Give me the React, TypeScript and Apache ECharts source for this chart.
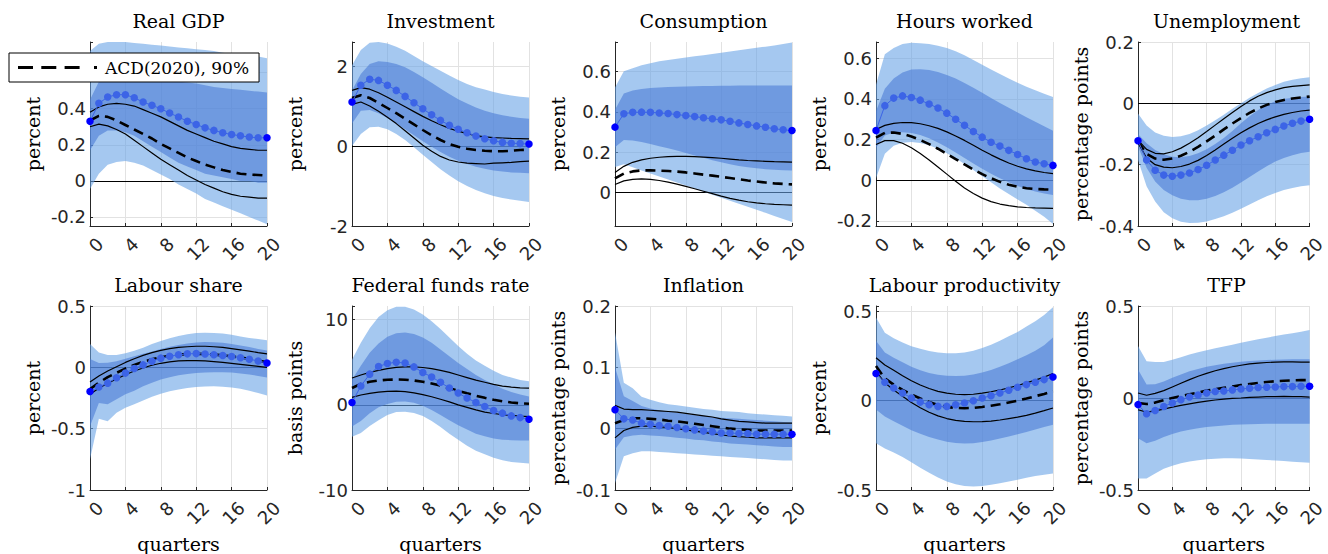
import React, { useEffect, useRef } from "react";
import * as echarts from "echarts";

const quarters = [0, 1, 2, 3, 4, 5, 6, 7, 8, 9, 10, 11, 12, 13, 14, 15, 16, 17, 18, 19, 20];

// Real GDP
const gdpMed = [0.33, 0.43, 0.465, 0.478, 0.478, 0.461, 0.437, 0.419, 0.4, 0.376, 0.354, 0.331, 0.313, 0.294, 0.28, 0.267, 0.257, 0.25, 0.243, 0.239, 0.239];
const gdpHi90 = [0.72, 0.76, 0.77, 0.77, 0.77, 0.765, 0.76, 0.755, 0.75, 0.745, 0.74, 0.735, 0.73, 0.725, 0.72, 0.71, 0.705, 0.7, 0.695, 0.69, 0.68];
const gdpHi68 = [0.45, 0.55, 0.58, 0.59, 0.59, 0.585, 0.58, 0.575, 0.57, 0.56, 0.55, 0.545, 0.54, 0.53, 0.52, 0.515, 0.51, 0.505, 0.5, 0.495, 0.49];
const gdpLo68 = [0.17, 0.25, 0.28, 0.28, 0.27, 0.25, 0.22, 0.19, 0.16, 0.13, 0.1, 0.08, 0.06, 0.04, 0.03, 0.02, 0.01, 0.0, 0.0, -0.01, -0.01];
const gdpLo90 = [-0.045, 0.04, 0.09, 0.105, 0.11, 0.1, 0.085, 0.06, 0.035, 0.01, -0.02, -0.045, -0.07, -0.1, -0.12, -0.14, -0.16, -0.18, -0.2, -0.22, -0.24];
const gdpAcd = [0.335, 0.36, 0.355, 0.335, 0.31, 0.285, 0.26, 0.235, 0.205, 0.18, 0.155, 0.13, 0.11, 0.09, 0.075, 0.06, 0.05, 0.04, 0.035, 0.033, 0.03];
const gdpAcdHi = [0.38, 0.41, 0.425, 0.43, 0.425, 0.415, 0.395, 0.375, 0.355, 0.33, 0.305, 0.28, 0.26, 0.24, 0.22, 0.205, 0.19, 0.18, 0.175, 0.17, 0.17];
const gdpAcdLo = [0.3, 0.315, 0.305, 0.285, 0.26, 0.225, 0.19, 0.155, 0.12, 0.09, 0.06, 0.03, 0.005, -0.02, -0.04, -0.06, -0.075, -0.085, -0.09, -0.095, -0.095];

// Investment
const invMed = [1.1, 1.52, 1.67, 1.64, 1.52, 1.39, 1.24, 1.08, 0.93, 0.78, 0.64, 0.52, 0.42, 0.33, 0.25, 0.18, 0.13, 0.09, 0.07, 0.06, 0.05];
const invHi90 = [2.02, 2.4, 2.58, 2.6, 2.56, 2.48, 2.38, 2.25, 2.12, 2.0, 1.88, 1.76, 1.65, 1.55, 1.47, 1.41, 1.35, 1.3, 1.26, 1.23, 1.21];
const invHi68 = [1.39, 1.8, 2.05, 2.12, 2.1, 2.05, 1.97, 1.85, 1.72, 1.58, 1.44, 1.3, 1.17, 1.06, 0.96, 0.88, 0.82, 0.77, 0.73, 0.7, 0.68];
const invLo68 = [0.56, 0.88, 0.9, 0.82, 0.7, 0.56, 0.42, 0.27, 0.12, -0.02, -0.15, -0.27, -0.37, -0.45, -0.52, -0.57, -0.61, -0.64, -0.66, -0.67, -0.68];
const invLo90 = [0.0, 0.3, 0.47, 0.48, 0.42, 0.3, 0.15, -0.03, -0.22, -0.4, -0.58, -0.74, -0.88, -1.0, -1.1, -1.18, -1.25, -1.3, -1.34, -1.37, -1.4];
const invAcd = [1.2, 1.27, 1.2, 1.08, 0.95, 0.82, 0.68, 0.54, 0.4, 0.27, 0.15, 0.05, -0.02, -0.07, -0.1, -0.12, -0.13, -0.13, -0.12, -0.1, -0.09];
const invAcdHi = [1.39, 1.46, 1.42, 1.33, 1.22, 1.1, 0.98, 0.86, 0.74, 0.63, 0.53, 0.44, 0.37, 0.31, 0.26, 0.23, 0.21, 0.2, 0.19, 0.185, 0.18];
const invAcdLo = [1.04, 1.1, 1.0, 0.87, 0.72, 0.56, 0.38, 0.2, 0.02, -0.13, -0.26, -0.35, -0.4, -0.43, -0.44, -0.45, -0.43, -0.42, -0.41, -0.39, -0.38];

// Consumption
const conMed = [0.324, 0.39, 0.397, 0.398, 0.397, 0.394, 0.391, 0.386, 0.381, 0.376, 0.37, 0.365, 0.36, 0.353, 0.345, 0.337, 0.33, 0.323, 0.316, 0.311, 0.307];
const conHi90 = [0.52, 0.6, 0.615, 0.63, 0.64, 0.65, 0.656, 0.662, 0.668, 0.674, 0.68, 0.686, 0.692, 0.698, 0.704, 0.71, 0.716, 0.722, 0.728, 0.735, 0.743];
const conHi68 = [0.41, 0.49, 0.505, 0.512, 0.518, 0.52, 0.522, 0.524, 0.525, 0.526, 0.527, 0.528, 0.529, 0.529, 0.53, 0.53, 0.53, 0.53, 0.53, 0.53, 0.53];
const conLo68 = [0.225, 0.26, 0.258, 0.25, 0.24, 0.23, 0.22, 0.208, 0.196, 0.184, 0.172, 0.16, 0.15, 0.14, 0.132, 0.126, 0.12, 0.116, 0.113, 0.111, 0.11];
const conLo90 = [0.127, 0.14, 0.125, 0.11, 0.095, 0.08, 0.065, 0.05, 0.035, 0.02, 0.005, -0.01, -0.025, -0.04, -0.055, -0.07, -0.085, -0.1, -0.115, -0.13, -0.145];
const conAcd = [0.07, 0.094, 0.105, 0.11, 0.11, 0.109, 0.107, 0.104, 0.1, 0.095, 0.089, 0.084, 0.078, 0.072, 0.066, 0.06, 0.055, 0.05, 0.046, 0.043, 0.041];
const conAcdHi = [0.1, 0.13, 0.15, 0.162, 0.17, 0.175, 0.178, 0.179, 0.179, 0.178, 0.176, 0.173, 0.17, 0.166, 0.162, 0.159, 0.157, 0.155, 0.153, 0.152, 0.151];
const conAcdLo = [0.04, 0.058, 0.066, 0.068, 0.066, 0.06, 0.052, 0.042, 0.031, 0.019, 0.007, -0.005, -0.017, -0.028, -0.037, -0.045, -0.051, -0.055, -0.058, -0.06, -0.062];

// Hours worked
const hrsMed = [0.245, 0.367, 0.404, 0.415, 0.407, 0.394, 0.375, 0.355, 0.33, 0.3, 0.27, 0.24, 0.212, 0.187, 0.168, 0.147, 0.127, 0.106, 0.09, 0.081, 0.073];
const hrsHi90 = [0.47, 0.62, 0.65, 0.67, 0.676, 0.674, 0.67, 0.662, 0.65, 0.635, 0.615, 0.592, 0.568, 0.545, 0.522, 0.5, 0.48, 0.46, 0.443, 0.425, 0.41];
const hrsHi68 = [0.34, 0.45, 0.5, 0.53, 0.545, 0.546, 0.542, 0.532, 0.518, 0.5, 0.478, 0.455, 0.43, 0.405, 0.38, 0.356, 0.333, 0.31, 0.288, 0.266, 0.244];
const hrsLo68 = [0.16, 0.22, 0.235, 0.236, 0.232, 0.222, 0.206, 0.186, 0.162, 0.137, 0.11, 0.083, 0.057, 0.032, 0.01, -0.01, -0.028, -0.043, -0.055, -0.065, -0.073];
const hrsLo90 = [0.01, 0.13, 0.17, 0.185, 0.188, 0.183, 0.172, 0.155, 0.133, 0.108, 0.08, 0.05, 0.02, -0.01, -0.04, -0.068, -0.095, -0.12, -0.15, -0.18, -0.215];
const hrsAcd = [0.21, 0.233, 0.235, 0.228, 0.215, 0.198, 0.178, 0.155, 0.13, 0.104, 0.078, 0.053, 0.03, 0.01, -0.008, -0.022, -0.032, -0.039, -0.043, -0.045, -0.046];
const hrsAcdHi = [0.25, 0.27, 0.28, 0.284, 0.283, 0.278, 0.268, 0.255, 0.238, 0.218, 0.196, 0.172, 0.148, 0.125, 0.104, 0.085, 0.069, 0.056, 0.046, 0.038, 0.033];
const hrsAcdLo = [0.176, 0.195, 0.195, 0.182, 0.16, 0.132, 0.1, 0.065, 0.03, -0.005, -0.038, -0.065, -0.088, -0.105, -0.117, -0.125, -0.131, -0.134, -0.136, -0.137, -0.138];

// Unemployment
const unMed = [-0.122, -0.185, -0.218, -0.234, -0.238, -0.234, -0.227, -0.216, -0.202, -0.185, -0.169, -0.153, -0.136, -0.122, -0.109, -0.096, -0.085, -0.074, -0.065, -0.058, -0.052];
const unHi90 = [-0.033, -0.072, -0.095, -0.106, -0.11, -0.107, -0.1, -0.088, -0.072, -0.055, -0.037, -0.018, 0.0, 0.018, 0.034, 0.048, 0.06, 0.07, 0.077, 0.082, 0.085];
const unHi68 = [-0.1, -0.13, -0.152, -0.166, -0.174, -0.176, -0.172, -0.163, -0.15, -0.133, -0.113, -0.09, -0.065, -0.042, -0.022, -0.005, 0.007, 0.014, 0.018, 0.021, 0.022];
const unLo68 = [-0.14, -0.21, -0.255, -0.283, -0.3, -0.311, -0.316, -0.316, -0.311, -0.302, -0.29, -0.275, -0.258, -0.24, -0.222, -0.205, -0.19, -0.178, -0.169, -0.162, -0.158];
const unLo90 = [-0.185, -0.27, -0.32, -0.355, -0.375, -0.386, -0.39, -0.389, -0.385, -0.377, -0.368, -0.357, -0.344, -0.33, -0.316, -0.303, -0.292, -0.283, -0.276, -0.27, -0.267];
const unAcd = [-0.125, -0.165, -0.18, -0.184, -0.18, -0.171, -0.158, -0.142, -0.124, -0.105, -0.085, -0.066, -0.048, -0.031, -0.017, -0.005, 0.004, 0.011, 0.016, 0.019, 0.022];
const unAcdHi = [-0.12, -0.15, -0.163, -0.165, -0.158, -0.146, -0.13, -0.112, -0.092, -0.071, -0.05, -0.03, -0.01, 0.008, 0.023, 0.035, 0.044, 0.051, 0.055, 0.058, 0.06];
const unAcdLo = [-0.128, -0.178, -0.2, -0.208, -0.21, -0.206, -0.198, -0.186, -0.17, -0.152, -0.133, -0.114, -0.096, -0.08, -0.066, -0.054, -0.044, -0.036, -0.03, -0.025, -0.022];

// Labour share
const lsMed = [-0.197, -0.16, -0.129, -0.085, -0.047, -0.01, 0.02, 0.05, 0.075, 0.09, 0.103, 0.11, 0.112, 0.108, 0.103, 0.096, 0.088, 0.078, 0.066, 0.052, 0.035];
const lsHi90 = [0.19, 0.12, 0.1, 0.1, 0.115, 0.135, 0.16, 0.19, 0.215, 0.238, 0.256, 0.27, 0.279, 0.282, 0.28, 0.275, 0.265, 0.252, 0.24, 0.23, 0.22];
const lsHi68 = [0.068, 0.035, 0.038, 0.05, 0.07, 0.09, 0.11, 0.13, 0.15, 0.168, 0.183, 0.195, 0.203, 0.206, 0.205, 0.2, 0.19, 0.178, 0.165, 0.15, 0.137];
const lsLo68 = [-0.48, -0.29, -0.3, -0.26, -0.22, -0.19, -0.155, -0.125, -0.1, -0.08, -0.065, -0.055, -0.047, -0.042, -0.04, -0.04, -0.043, -0.05, -0.058, -0.07, -0.082];
const lsLo90 = [-0.75, -0.42, -0.44, -0.37, -0.33, -0.3, -0.27, -0.24, -0.215, -0.195, -0.18, -0.168, -0.16, -0.156, -0.155, -0.158, -0.165, -0.175, -0.19, -0.21, -0.23];
const lsAcd = [-0.178, -0.125, -0.08, -0.045, -0.01, 0.02, 0.045, 0.065, 0.082, 0.095, 0.104, 0.108, 0.11, 0.108, 0.104, 0.098, 0.09, 0.08, 0.07, 0.056, 0.041];
const lsAcdHi = [-0.12, -0.07, -0.03, 0.005, 0.04, 0.07, 0.097, 0.12, 0.138, 0.152, 0.162, 0.168, 0.172, 0.172, 0.168, 0.162, 0.153, 0.143, 0.132, 0.12, 0.11];
const lsAcdLo = [-0.22, -0.17, -0.13, -0.095, -0.06, -0.03, -0.005, 0.017, 0.033, 0.045, 0.052, 0.055, 0.055, 0.052, 0.047, 0.04, 0.032, 0.024, 0.016, 0.008, 0.0];

// Federal funds rate
const ffrMed = [0.28, 2.2, 3.6, 4.5, 4.85, 5.0, 4.9, 4.45, 3.8, 3.27, 2.64, 1.97, 1.38, 0.79, 0.28, -0.2, -0.67, -0.98, -1.3, -1.5, -1.7];
const ffrHi90 = [5.3, 7.3, 9.0, 10.3, 11.1, 11.5, 11.5, 11.2, 10.6, 9.8, 8.9, 7.9, 6.9, 6.0, 5.2, 4.6, 4.0, 3.5, 3.2, 2.9, 2.76];
const ffrHi68 = [2.95, 4.6, 6.1, 7.2, 8.0, 8.4, 8.5, 8.3, 7.9, 7.3, 6.5, 5.7, 4.9, 4.2, 3.5, 2.9, 2.4, 1.9, 1.5, 1.2, 0.98];
const ffrLo68 = [-2.56, -1.9, -1.0, -0.3, 0.1, 0.35, 0.4, 0.25, -0.1, -0.6, -1.2, -1.8, -2.4, -2.9, -3.4, -3.7, -3.95, -4.1, -4.15, -4.2, -4.2];
const ffrLo90 = [-3.74, -3.3, -2.5, -1.8, -1.2, -0.85, -0.8, -0.95, -1.3, -1.9, -2.6, -3.4, -4.1, -4.8, -5.4, -5.8, -6.2, -6.5, -6.7, -6.8, -6.9];
const ffrAcd = [1.97, 2.45, 2.7, 2.85, 2.95, 2.97, 2.95, 2.85, 2.7, 2.5, 2.25, 1.95, 1.65, 1.35, 1.07, 0.82, 0.6, 0.42, 0.28, 0.18, 0.12];
const ffrAcdHi = [3.15, 3.5, 3.8, 4.05, 4.25, 4.4, 4.45, 4.45, 4.38, 4.25, 4.05, 3.8, 3.5, 3.2, 2.9, 2.65, 2.4, 2.2, 2.08, 2.0, 1.97];
const ffrAcdLo = [0.87, 1.15, 1.35, 1.5, 1.57, 1.6, 1.55, 1.4, 1.2, 0.95, 0.65, 0.35, 0.0, -0.3, -0.6, -0.85, -1.02, -1.15, -1.25, -1.32, -1.38];

// Inflation
const infMed = [0.031, 0.016, 0.014, 0.009, 0.007, 0.005, 0.004, 0.002, 0.0, -0.002, -0.004, -0.005, -0.007, -0.007, -0.008, -0.008, -0.009, -0.009, -0.009, -0.009, -0.009];
const infHi90 = [0.157, 0.075, 0.066, 0.052, 0.047, 0.043, 0.04, 0.038, 0.036, 0.034, 0.032, 0.031, 0.029, 0.028, 0.027, 0.025, 0.024, 0.023, 0.022, 0.021, 0.02];
const infHi68 = [0.1, 0.053, 0.045, 0.037, 0.033, 0.03, 0.028, 0.026, 0.024, 0.022, 0.021, 0.019, 0.018, 0.017, 0.016, 0.015, 0.014, 0.013, 0.012, 0.011, 0.01];
const infLo68 = [-0.034, -0.014, -0.011, -0.01, -0.011, -0.012, -0.013, -0.015, -0.016, -0.018, -0.019, -0.021, -0.022, -0.024, -0.025, -0.026, -0.027, -0.028, -0.029, -0.03, -0.03];
const infLo90 = [-0.089, -0.045, -0.04, -0.037, -0.037, -0.038, -0.039, -0.04, -0.041, -0.042, -0.043, -0.044, -0.045, -0.046, -0.047, -0.048, -0.049, -0.05, -0.051, -0.052, -0.052];
const infAcd = [0.009, 0.014, 0.017, 0.017, 0.016, 0.015, 0.013, 0.012, 0.01, 0.008, 0.006, 0.004, 0.002, 0.0, -0.001, -0.002, -0.003, -0.003, -0.003, -0.003, -0.003];
const infAcdHi = [0.038, 0.032, 0.031, 0.031, 0.03, 0.029, 0.028, 0.027, 0.025, 0.023, 0.021, 0.019, 0.016, 0.014, 0.012, 0.011, 0.01, 0.009, 0.009, 0.009, 0.009];
const infAcdLo = [-0.015, -0.003, 0.002, 0.004, 0.004, 0.003, 0.002, 0.0, -0.002, -0.004, -0.006, -0.008, -0.01, -0.012, -0.013, -0.014, -0.015, -0.015, -0.015, -0.015, -0.015];

// Labour productivity
const lpMed = [0.152, 0.103, 0.071, 0.043, 0.015, -0.008, -0.023, -0.032, -0.032, -0.023, -0.013, 0.0, 0.015, 0.028, 0.043, 0.058, 0.075, 0.09, 0.103, 0.118, 0.133];
const lpHi90 = [0.466, 0.38, 0.35, 0.325, 0.305, 0.29, 0.278, 0.27, 0.265, 0.265, 0.27, 0.28, 0.295, 0.313, 0.335, 0.36, 0.385, 0.415, 0.445, 0.48, 0.523];
const lpHi68 = [0.335, 0.27, 0.24, 0.215, 0.19, 0.17, 0.155, 0.145, 0.14, 0.138, 0.14, 0.147, 0.158, 0.172, 0.19, 0.21, 0.232, 0.255, 0.28, 0.31, 0.353];
const lpLo68 = [-0.05, -0.088, -0.115, -0.14, -0.165, -0.185, -0.203, -0.218, -0.23, -0.237, -0.24, -0.238, -0.232, -0.223, -0.212, -0.2, -0.188, -0.175, -0.162, -0.148, -0.135];
const lpLo90 = [-0.239, -0.267, -0.29, -0.315, -0.345, -0.375, -0.403, -0.43, -0.452, -0.468, -0.478, -0.48, -0.477, -0.47, -0.462, -0.452, -0.442, -0.432, -0.422, -0.415, -0.408];
const lpAcd = [0.194, 0.125, 0.09, 0.06, 0.035, 0.012, -0.008, -0.024, -0.035, -0.041, -0.042, -0.04, -0.035, -0.028, -0.02, -0.01, 0.0, 0.012, 0.025, 0.038, 0.053];
const lpAcdHi = [0.24, 0.2, 0.17, 0.14, 0.112, 0.088, 0.068, 0.052, 0.042, 0.036, 0.034, 0.036, 0.042, 0.05, 0.06, 0.072, 0.085, 0.1, 0.115, 0.132, 0.152];
const lpAcdLo = [0.165, 0.1, 0.06, 0.025, -0.01, -0.04, -0.065, -0.085, -0.1, -0.11, -0.116, -0.118, -0.117, -0.114, -0.108, -0.1, -0.092, -0.082, -0.07, -0.056, -0.041];

// TFP
const tfpMed = [-0.036, -0.086, -0.068, -0.046, -0.027, -0.009, 0.005, 0.016, 0.027, 0.035, 0.038, 0.044, 0.049, 0.053, 0.057, 0.058, 0.06, 0.062, 0.062, 0.064, 0.064];
const tfpHi90 = [0.283, 0.2, 0.195, 0.195, 0.208, 0.222, 0.236, 0.248, 0.26, 0.27, 0.28, 0.29, 0.3, 0.31, 0.319, 0.328, 0.337, 0.345, 0.352, 0.36, 0.369];
const tfpHi68 = [0.155, 0.073, 0.075, 0.09, 0.11, 0.128, 0.145, 0.158, 0.17, 0.178, 0.186, 0.192, 0.197, 0.201, 0.204, 0.206, 0.208, 0.209, 0.21, 0.21, 0.21];
const tfpLo68 = [-0.219, -0.246, -0.232, -0.212, -0.195, -0.182, -0.172, -0.164, -0.158, -0.153, -0.149, -0.146, -0.144, -0.142, -0.141, -0.14, -0.14, -0.14, -0.14, -0.14, -0.14];
const tfpLo90 = [-0.438, -0.438, -0.41, -0.385, -0.368, -0.355, -0.345, -0.338, -0.333, -0.33, -0.328, -0.328, -0.329, -0.331, -0.334, -0.337, -0.34, -0.343, -0.346, -0.349, -0.352];
const tfpAcd = [-0.027, -0.033, -0.025, -0.012, 0.0, 0.01, 0.02, 0.03, 0.04, 0.048, 0.055, 0.062, 0.07, 0.076, 0.082, 0.087, 0.091, 0.094, 0.096, 0.097, 0.097];
const tfpAcdHi = [0.027, 0.015, 0.025, 0.04, 0.06, 0.08, 0.1, 0.118, 0.134, 0.148, 0.16, 0.17, 0.178, 0.185, 0.19, 0.193, 0.195, 0.196, 0.196, 0.195, 0.195];
const tfpAcdLo = [-0.064, -0.077, -0.07, -0.06, -0.05, -0.04, -0.032, -0.024, -0.017, -0.011, -0.006, -0.002, 0.0, 0.003, 0.005, 0.007, 0.008, 0.009, 0.008, 0.007, 0.005];

const titles = ["Real GDP", "Investment", "Consumption", "Hours worked", "Unemployment", "Labour share", "Federal funds rate", "Inflation", "Labour productivity", "TFP"];
const yNames = ["percent", "percent", "percent", "percent", "percentage points", "percent", "basis points", "percentage points", "percent", "percentage points"];
const yMins = [-0.25, -2, -0.165, -0.225, -0.4, -1, -10, -0.1, -0.5, -0.5];
const yMaxs = [0.77, 2.6, 0.745, 0.68, 0.2, 0.5, 11.6, 0.2, 0.53, 0.5];
const ySteps = [0.2, 2, 0.2, 0.2, 0.2, 0.5, 10, 0.1, 0.5, 0.5];
const xTickEvery = 4;
const legendLabel = "ACD(2020), 90%";

const medians = [gdpMed, invMed, conMed, hrsMed, unMed, lsMed, ffrMed, infMed, lpMed, tfpMed];
const hi90s = [gdpHi90, invHi90, conHi90, hrsHi90, unHi90, lsHi90, ffrHi90, infHi90, lpHi90, tfpHi90];
const hi68s = [gdpHi68, invHi68, conHi68, hrsHi68, unHi68, lsHi68, ffrHi68, infHi68, lpHi68, tfpHi68];
const lo68s = [gdpLo68, invLo68, conLo68, hrsLo68, unLo68, lsLo68, ffrLo68, infLo68, lpLo68, tfpLo68];
const lo90s = [gdpLo90, invLo90, conLo90, hrsLo90, unLo90, lsLo90, ffrLo90, infLo90, lpLo90, tfpLo90];
const acds = [gdpAcd, invAcd, conAcd, hrsAcd, unAcd, lsAcd, ffrAcd, infAcd, lpAcd, tfpAcd];
const acdHis = [gdpAcdHi, invAcdHi, conAcdHi, hrsAcdHi, unAcdHi, lsAcdHi, ffrAcdHi, infAcdHi, lpAcdHi, tfpAcdHi];
const acdLos = [gdpAcdLo, invAcdLo, conAcdLo, hrsAcdLo, unAcdLo, lsAcdLo, ffrAcdLo, infAcdLo, lpAcdLo, tfpAcdLo];

const SERIF = "DejaVu Serif";
const SANS = "DejaVu Sans";
const AXIS = "#262626";
const GRIDC = "#e2e2e2";
const LIGHT = "rgba(105,163,230,0.6)";
const DARK = "rgba(75,123,213,0.6)";
const DOT = "#3c64e6";

const lefts = [90, 352, 615, 876, 1138];
const tops = [42, 306];
const W = 177;
const H = 184;

// dashed legend sample: three dashes and a dot
const LEGEND_ICON = "path://M0 0H15V3H0Z M23.3 0H38.3V3H23.3Z M46.6 0H61.6V3H46.6Z M76 0H79V3H76Z";

function isMult(v: number, s: number) {
  const r = v / s;
  return Math.abs(r - Math.round(r)) < 1e-6;
}

function buildOption() {
  const grid: any[] = [];
  const xAxis: any[] = [];
  const yAxis: any[] = [];
  const title: any[] = [];
  const series: any[] = [];
  const cats = quarters.map((q) => String(q));
  for (let i = 0; i < 10; i++) {
    const row = i < 5 ? 0 : 1;
    const col = i % 5;
    const left = lefts[col];
    const top = tops[row];
    grid.push({ left, top, width: W, height: H, containLabel: false });
    title.push({
      text: titles[i],
      left: left + W / 2,
      top: top - 31,
      textAlign: "center",
      padding: 0,
      textStyle: { fontFamily: SERIF, fontSize: 19, fontWeight: "normal", color: "#000" },
    });
    const step = ySteps[i];
    xAxis.push({
      type: "category",
      gridIndex: i,
      data: cats,
      boundaryGap: false,
      name: row === 1 ? "quarters" : "",
      nameLocation: "middle",
      nameGap: 44,
      nameTextStyle: { fontFamily: SERIF, fontSize: 19, color: "#000" },
      axisLine: { show: true, onZero: false, lineStyle: { color: AXIS, width: 1 } },
      axisTick: { show: true, inside: true, length: 3, interval: xTickEvery - 1, lineStyle: { color: AXIS } },
      axisLabel: {
        interval: xTickEvery - 1,
        rotate: 45,
        margin: 5,
        verticalAlign: "top",
        padding: [5, 0, 0, 0],
        fontFamily: SANS,
        fontSize: 18,
        color: AXIS,
      },
      splitLine: { show: true, interval: xTickEvery - 1, lineStyle: { color: GRIDC, width: 1 } },
    });
    yAxis.push({
      type: "value",
      gridIndex: i,
      min: yMins[i],
      max: yMaxs[i],
      minInterval: step,
      maxInterval: step,
      name: yNames[i],
      nameLocation: "middle",
      nameGap: 48,
      nameTextStyle: { fontFamily: SERIF, fontSize: 19, color: "#000" },
      axisLine: { show: true, lineStyle: { color: AXIS, width: 1 } },
      axisTick: { show: true, inside: true, length: 3, lineStyle: { color: AXIS } },
      axisLabel: {
        margin: 4,
        fontFamily: SANS,
        fontSize: 18,
        color: AXIS,
        formatter: (v: number) => (isMult(v, step) ? String(parseFloat((Math.round(v / step) * step).toFixed(4))) : ""),
      },
      splitLine: {
        show: true,
        showMinLine: false,
        showMaxLine: isMult(yMaxs[i], step),
        lineStyle: { color: GRIDC, width: 1 },
      },
    });

    const common = { xAxisIndex: i, yAxisIndex: i, type: "line", symbol: "none", silent: true, animation: false };
    const diff = (hi: number[], lo: number[]) => hi.map((h, k) => h - lo[k]);

    // 90% band
    series.push({
      ...common,
      name: "b90lo" + i,
      stack: "s90_" + i,
      stackStrategy: "all",
      z: 2,
      lineStyle: { opacity: 0, width: 0 },
      data: lo90s[i],
      markLine: {
        silent: true,
        z: 1,
        symbol: ["none", "none"],
        label: { show: false },
        lineStyle: { color: "#000", width: 1, type: "solid" },
        data: [{ yAxis: 0 }],
      },
    });
    series.push({
      ...common,
      name: "b90hi" + i,
      stack: "s90_" + i,
      stackStrategy: "all",
      z: 2,
      lineStyle: { opacity: 0, width: 0 },
      areaStyle: { color: LIGHT, opacity: 1 },
      data: diff(hi90s[i], lo90s[i]),
    });
    // 68% band
    series.push({
      ...common,
      name: "b68lo" + i,
      stack: "s68_" + i,
      stackStrategy: "all",
      z: 3,
      lineStyle: { opacity: 0, width: 0 },
      data: lo68s[i],
    });
    series.push({
      ...common,
      name: "b68hi" + i,
      stack: "s68_" + i,
      stackStrategy: "all",
      z: 3,
      lineStyle: { opacity: 0, width: 0 },
      areaStyle: { color: DARK, opacity: 1 },
      data: diff(hi68s[i], lo68s[i]),
    });
    // ACD bounds and point estimate
    series.push({ ...common, name: "acdHi" + i, z: 4, lineStyle: { color: "#000", width: 1.2 }, data: acdHis[i] });
    series.push({ ...common, name: "acdLo" + i, z: 4, lineStyle: { color: "#000", width: 1.2 }, data: acdLos[i] });
    series.push({
      ...common,
      name: legendLabel,
      z: 4,
      lineStyle: { color: "#000", width: 2.6, type: [10, 6] },
      itemStyle: { color: "#000" },
      data: acds[i],
    });
    // median response
    series.push({
      ...common,
      name: "med" + i,
      z: 5,
      symbol: "circle",
      symbolSize: 7.5,
      showSymbol: true,
      showAllSymbol: true,
      lineStyle: { color: DOT, width: 1 },
      itemStyle: { color: (p: any) => (p.dataIndex === 0 || p.dataIndex === quarters.length - 1 ? "#0000ff" : DOT) },
      data: medians[i],
    });
  }

  return {
    animation: false,
    backgroundColor: "#ffffff",
    title,
    grid,
    xAxis,
    yAxis,
    legend: {
      show: true,
      data: [{ name: legendLabel, icon: LEGEND_ICON }],
      left: 9,
      top: 53,
      z: 20,
      orient: "horizontal",
      itemWidth: 79,
      itemHeight: 3,
      itemGap: 0,
      padding: [6, 10, 6, 9],
      borderColor: "#000",
      borderWidth: 1,
      borderRadius: 0,
      backgroundColor: "#ffffff",
      selectedMode: false,
      itemStyle: { color: "#000", borderWidth: 0 },
      textStyle: { fontFamily: SERIF, fontSize: 17, color: "#000", padding: [0, 0, 0, 3] },
    },
    series,
  };
}

export default function App() {
  const ref = useRef<HTMLDivElement>(null);
  useEffect(() => {
    document.body.style.margin = "0";
    if (!ref.current) return;
    const chart = echarts.init(ref.current, undefined, { renderer: "svg" });
    chart.setOption(buildOption() as any);
    return () => chart.dispose();
  }, []);
  return <div ref={ref} style={{ width: 1328, height: 554, background: "#fff" }} />;
}
